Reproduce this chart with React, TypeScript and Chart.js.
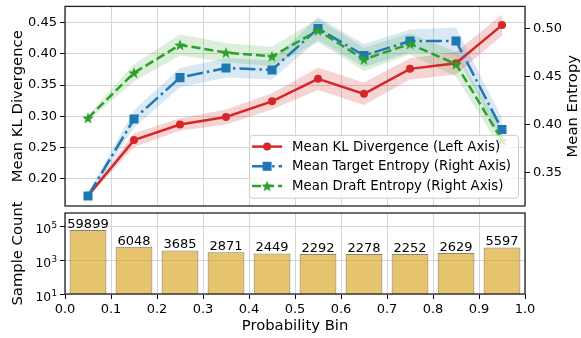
import React, { useEffect, useRef } from 'react';
import { Chart, registerables } from 'chart.js';

Chart.register(...registerables);

// ---- data ----
const bins = [0.05, 0.15, 0.25, 0.35, 0.45, 0.55, 0.65, 0.75, 0.85, 0.95];
const klMean = [0.173, 0.262, 0.287, 0.299, 0.324, 0.360, 0.336, 0.376, 0.385, 0.446];
const klErr = [0.003, 0.011, 0.010, 0.012, 0.013, 0.018, 0.018, 0.017, 0.018, 0.017];
const targetMean = [0.326, 0.406, 0.449, 0.459, 0.457, 0.500, 0.472, 0.487, 0.487, 0.395];
const targetErr = [0.003, 0.009, 0.010, 0.010, 0.010, 0.012, 0.012, 0.012, 0.014, 0.012];
const draftMean = [0.407, 0.454, 0.483, 0.475, 0.471, 0.498, 0.468, 0.484, 0.463, 0.384];
const draftErr = [0.003, 0.009, 0.011, 0.010, 0.010, 0.012, 0.012, 0.011, 0.013, 0.011];
const sampleCounts = [59899, 6048, 3685, 2871, 2449, 2292, 2278, 2252, 2629, 5597];

const xTicks = [0, 0.1, 0.2, 0.3, 0.4, 0.5, 0.6, 0.7, 0.8, 0.9, 1.0];
const klTicks = [0.2, 0.25, 0.3, 0.35, 0.4, 0.45];
const entropyTicks = [0.35, 0.4, 0.45, 0.5];
const countTicks = [10, 1000, 100000];

const labelKL = 'Mean KL Divergence (Left Axis)';
const labelTarget = 'Mean Target Entropy (Right Axis)';
const labelDraft = 'Mean Draft Entropy (Right Axis)';
const titleLeftTop = 'Mean KL Divergence';
const titleRightTop = 'Mean Entropy';
const titleLeftBottom = 'Sample Count';
const titleX = 'Probability Bin';

const RED = '#d62728';
const BLUE = '#1f77b4';
const GREEN = '#2ca02c';
const GRID = '#d6d6d6';
const FONT = "'DejaVu Sans', sans-serif";
const TICK_SIZE = 13;
const LEGEND_SIZE = 13.3;
const TITLE_SIZE = 14.8;

const pts = (arr: number[], off?: number[], sign = 0) =>
  bins.map((x, i) => ({ x, y: arr[i] + (off ? sign * off[i] : 0) }));

function makeStar(color: string, outer: number) {
  const c = document.createElement('canvas');
  const s = Math.ceil(outer * 2 + 2);
  c.width = s;
  c.height = s;
  const ctx = c.getContext('2d')!;
  const cx = s / 2, cy = s / 2 + outer * 0.1;
  const inner = outer * 0.42;
  ctx.beginPath();
  for (let k = 0; k < 10; k++) {
    const r = k % 2 === 0 ? outer : inner;
    const a = -Math.PI / 2 + (k * Math.PI) / 5;
    const px = cx + r * Math.cos(a);
    const py = cy + r * Math.sin(a);
    if (k === 0) ctx.moveTo(px, py);
    else ctx.lineTo(px, py);
  }
  ctx.closePath();
  ctx.fillStyle = color;
  ctx.fill();
  return c;
}

function zeroPad(s: any) {
  s.paddingTop = 0;
  s.paddingBottom = 0;
  s.paddingLeft = 0;
  s.paddingRight = 0;
}

const framePlugin = {
  id: 'frame',
  afterDatasetsDraw(chart: any) {
    const { ctx, chartArea: a } = chart;
    ctx.save();
    ctx.strokeStyle = '#222';
    ctx.lineWidth = 1.3;
    ctx.strokeRect(a.left, a.top, a.right - a.left, a.bottom - a.top);
    ctx.restore();
  },
};

function drawMarker(ctx: CanvasRenderingContext2D, kind: string, color: string, x: number, y: number, star: HTMLCanvasElement) {
  ctx.save();
  ctx.setLineDash([]);
  ctx.fillStyle = color;
  if (kind === 'circle') {
    ctx.beginPath();
    ctx.arc(x, y, 4, 0, Math.PI * 2);
    ctx.fill();
  } else if (kind === 'rect') {
    ctx.fillRect(x - 4.5, y - 4.5, 9, 9);
  } else {
    ctx.drawImage(star, x - star.width / 2, y - star.height / 2);
  }
  ctx.restore();
}

export default function App() {
  const topRef = useRef<HTMLCanvasElement>(null);
  const botRef = useRef<HTMLCanvasElement>(null);

  useEffect(() => {
    const star = makeStar(GREEN, 6);
    const legendStar = makeStar(GREEN, 6);

    const legendPlugin = {
      id: 'customLegend',
      afterDraw(chart: any) {
        const { ctx, chartArea: a } = chart;
        const entries = chart.data.datasets.filter((d: any) => d.legendMarker);
        ctx.save();
        ctx.font = `${LEGEND_SIZE}px ${FONT}`;
        let maxW = 0;
        entries.forEach((d: any) => { maxW = Math.max(maxW, ctx.measureText(d.label).width); });
        const w = 43 + maxW + 7;
        const rowH = 19.7;
        const h = 11.7 * 2 + rowH * (entries.length - 1);
        const right = a.right - 7;
        const bottom = a.bottom - 8.3;
        const left = right - w;
        const top = bottom - h;
        ctx.beginPath();
        if ((ctx as any).roundRect) (ctx as any).roundRect(left + 0.5, top + 0.5, w, h, 3);
        else ctx.rect(left + 0.5, top + 0.5, w, h);
        ctx.fillStyle = 'rgba(255,255,255,0.8)';
        ctx.fill();
        ctx.strokeStyle = '#cccccc';
        ctx.lineWidth = 1;
        ctx.stroke();
        entries.forEach((d: any, i: number) => {
          const y = top + 11.7 + i * rowH;
          ctx.save();
          ctx.strokeStyle = d.borderColor;
          ctx.lineWidth = d.borderWidth;
          ctx.setLineDash(d.borderDash || []);
          ctx.beginPath();
          ctx.moveTo(left + 3, y);
          ctx.lineTo(left + 33, y);
          ctx.stroke();
          ctx.restore();
          drawMarker(ctx, d.legendMarker, d.borderColor, left + 18, y, legendStar);
          ctx.fillStyle = '#000';
          ctx.textBaseline = 'middle';
          ctx.textAlign = 'left';
          ctx.fillText(d.label, left + 43, y + 0.5);
        });
        ctx.restore();
      },
    };

    const rightTitlePlugin = {
      id: 'rightTitle',
      afterDraw(chart: any) {
        const { ctx, chartArea: a } = chart;
        ctx.save();
        ctx.translate(chart.width - 8, (a.top + a.bottom) / 2);
        ctx.rotate(-Math.PI / 2);
        ctx.font = `${TITLE_SIZE}px ${FONT}`;
        ctx.fillStyle = '#000';
        ctx.textAlign = 'center';
        ctx.textBaseline = 'middle';
        ctx.fillText(titleRightTop, 0, 0);
        ctx.restore();
      },
    };

    const barLabelPlugin = {
      id: 'barLabels',
      afterDatasetsDraw(chart: any) {
        const { ctx } = chart;
        const meta = chart.getDatasetMeta(0);
        ctx.save();
        ctx.font = `${TICK_SIZE}px ${FONT}`;
        ctx.fillStyle = '#000';
        ctx.textAlign = 'center';
        ctx.textBaseline = 'alphabetic';
        meta.data.forEach((bar: any, i: number) => {
          ctx.fillText(String(sampleCounts[i]), bar.x, bar.y - 2);
        });
        ctx.restore();
      },
    };

    // log tick labels drawn as 10 with a raised exponent
    const logTickPlugin = {
      id: 'logTicks',
      afterDraw(chart: any) {
        const { ctx } = chart;
        const scale = chart.scales.y;
        ctx.save();
        ctx.fillStyle = '#000';
        ctx.textAlign = 'right';
        ctx.textBaseline = 'alphabetic';
        countTicks.forEach((v) => {
          const y = scale.getPixelForValue(v);
          const exp = String(Math.round(Math.log10(v)));
          const right = scale.right - 5 - 3;
          ctx.font = `8.8px ${FONT}`;
          const ew = ctx.measureText(exp).width;
          ctx.fillText(exp, right, y + 1.5);
          ctx.font = `12.3px ${FONT}`;
          ctx.fillText('10', right - ew - 0.3, y + 6.5);
        });
        ctx.restore();
      },
    };

    const band = (mean: number[], err: number[], axis: string, fillColor: string, order: number) => [
      {
        type: 'line', data: pts(mean, err, 1), yAxisID: axis, borderColor: 'transparent', borderWidth: 0,
        pointRadius: 0, fill: false, order,
      },
      {
        type: 'line', data: pts(mean, err, -1), yAxisID: axis, borderColor: 'transparent', borderWidth: 0,
        pointRadius: 0, fill: '-1', backgroundColor: fillColor, order,
      },
    ];

    const top = new Chart(topRef.current!, {
      type: 'line',
      data: {
        datasets: [
          {
            label: labelKL, data: pts(klMean), yAxisID: 'yL', borderColor: RED, backgroundColor: RED,
            borderWidth: 2.5, pointStyle: 'circle', pointRadius: 4, pointBorderWidth: 0,
            pointBackgroundColor: RED, fill: false, order: 2, legendMarker: 'circle',
          } as any,
          {
            label: labelTarget, data: pts(targetMean), yAxisID: 'yR', borderColor: BLUE, backgroundColor: BLUE,
            borderWidth: 2.5, borderDash: [16, 4, 2.5, 4], pointStyle: 'rect', pointRadius: 6.4, pointBorderWidth: 0,
            pointBackgroundColor: BLUE, fill: false, order: 1, legendMarker: 'rect',
          } as any,
          {
            label: labelDraft, data: pts(draftMean), yAxisID: 'yR', borderColor: GREEN, backgroundColor: GREEN,
            borderWidth: 2.5, borderDash: [9, 4], pointStyle: star, pointRadius: 6, pointBorderWidth: 0,
            fill: false, order: 0, legendMarker: 'star',
          } as any,
          ...(band(klMean, klErr, 'yL', 'rgba(214,39,40,0.2)', 5) as any[]),
          ...(band(targetMean, targetErr, 'yR', 'rgba(31,119,180,0.17)', 4) as any[]),
          ...(band(draftMean, draftErr, 'yR', 'rgba(44,160,44,0.17)', 3) as any[]),
        ],
      },
      options: {
        responsive: false,
        animation: false,
        layout: { padding: { top: 5, bottom: 132, left: 0, right: 0 } },
        plugins: { legend: { display: false }, tooltip: { enabled: false } },
        scales: {
          x: {
            type: 'linear', min: 0, max: 1,
            afterBuildTicks: (s: any) => { s.ticks = xTicks.map((v) => ({ value: v })); },
            ticks: { display: false },
            grid: { color: GRID, drawTicks: false, lineWidth: 1 },
            border: { display: false },
            afterFit: (s: any) => { s.height = 0; zeroPad(s); },
          },
          yL: {
            type: 'linear', position: 'left', min: 0.1566, max: 0.4759,
            afterBuildTicks: (s: any) => { s.ticks = klTicks.map((v) => ({ value: v })); },
            ticks: { callback: (v: any) => Number(v).toFixed(2), font: { size: TICK_SIZE, family: FONT }, color: '#000', padding: 3 },
            grid: { color: GRID, tickColor: '#000', tickLength: 5, tickWidth: 1 },
            border: { display: false },
            title: { display: true, text: titleLeftTop, font: { size: TITLE_SIZE, family: FONT }, color: '#000', padding: { top: 9, bottom: 0 } },
            afterFit: (s: any) => { s.width = 65; zeroPad(s); },
          },
          yR: {
            type: 'linear', position: 'right', min: 0.3156, max: 0.523,
            afterBuildTicks: (s: any) => { s.ticks = entropyTicks.map((v) => ({ value: v })); },
            ticks: { callback: (v: any) => Number(v).toFixed(2), font: { size: TICK_SIZE, family: FONT }, color: '#000', padding: 3 },
            grid: { drawOnChartArea: false, tickColor: '#000', tickLength: 5, tickWidth: 1 },
            border: { display: false },
            afterFit: (s: any) => { s.width = 56; zeroPad(s); },
          },
        },
      } as any,
      plugins: [framePlugin, legendPlugin, rightTitlePlugin],
    });

    const bot = new Chart(botRef.current!, {
      type: 'bar',
      data: {
        datasets: [
          {
            label: titleLeftBottom,
            data: bins.map((x, i) => ({ x, y: sampleCounts[i] })),
            backgroundColor: 'rgba(218,165,32,0.65)',
            borderColor: 'rgba(40,30,10,0.55)',
            borderWidth: 1,
            categoryPercentage: 1,
            barPercentage: 0.8,
          } as any,
        ],
      },
      options: {
        responsive: false,
        animation: false,
        layout: { padding: { top: 213, bottom: 0, left: 0, right: 56 } },
        plugins: { legend: { display: false }, tooltip: { enabled: false } },
        scales: {
          x: {
            type: 'linear', min: 0, max: 1, offset: false,
            afterBuildTicks: (s: any) => { s.ticks = xTicks.map((v) => ({ value: v })); },
            ticks: { callback: (v: any) => Number(v).toFixed(1), font: { size: TICK_SIZE, family: FONT }, color: '#000', padding: 3, maxRotation: 0, autoSkip: false },
            grid: { color: GRID, tickColor: '#000', tickLength: 5, tickWidth: 1, offset: false },
            border: { display: false },
            title: { display: true, text: titleX, font: { size: TITLE_SIZE, family: FONT }, color: '#000', padding: { top: 0, bottom: 3 } },
            afterFit: (s: any) => { s.height = 44; zeroPad(s); },
          },
          y: {
            type: 'logarithmic', min: 10, max: 599000,
            afterBuildTicks: (s: any) => { s.ticks = countTicks.map((v) => ({ value: v })); },
            ticks: { display: true, callback: () => '', font: { size: TICK_SIZE, family: FONT }, padding: 3 },
            grid: { color: GRID, tickColor: '#000', tickLength: 5, tickWidth: 1 },
            border: { display: false },
            title: { display: true, text: titleLeftBottom, font: { size: TITLE_SIZE, family: FONT }, color: '#000', padding: { top: 9, bottom: 0 } },
            afterFit: (s: any) => { s.width = 65; zeroPad(s); },
          },
        },
      } as any,
      plugins: [framePlugin, barLabelPlugin, logTickPlugin],
    });

    return () => {
      top.destroy();
      bot.destroy();
    };
  }, []);

  return (
    <div style={{ position: 'fixed', left: 0, top: 0, width: 581, height: 338, background: '#fff' }}>
      <canvas ref={topRef} width={581} height={338} style={{ position: 'absolute', left: 0, top: 0 }} />
      <canvas ref={botRef} width={581} height={338} style={{ position: 'absolute', left: 0, top: 0 }} />
    </div>
  );
}
